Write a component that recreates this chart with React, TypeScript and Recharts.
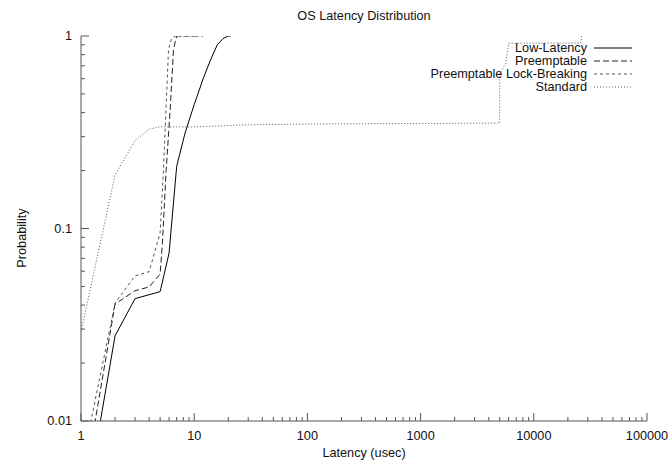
import React from "react";
import { Line, LineChart, XAxis, YAxis } from "recharts";

// latency (usec) / cumulative probability
const lowLatencyX = [1, 2, 3, 5, 6, 7, 8.3, 10, 12, 14, 16, 18, 20, 21];
const lowLatencyY = [0.0026, 0.0277, 0.0432, 0.047, 0.0746, 0.21, 0.313, 0.44, 0.6, 0.756, 0.9, 0.97, 1, 1];

const preemptX = [1, 2, 3, 4, 5, 5.24, 5.65, 6.13, 6.56, 6.85, 7.03, 12];
const preemptY = [0.0037, 0.0405, 0.0475, 0.0497, 0.058, 0.084, 0.2, 0.412, 0.846, 0.953, 1, 1];

const lockBreakX = [1, 2, 3, 4, 5, 5.35, 5.63, 5.93, 6.3, 6.79, 10];
const lockBreakY = [0.0056, 0.041, 0.0567, 0.0597, 0.0948, 0.2, 0.412, 0.846, 0.97, 1, 1];

const standardX = [1, 2, 3, 4, 5, 6, 10, 26, 106, 4990, 5010, 5650, 6000, 26000, 26500];
const standardY = [0.029, 0.19, 0.286, 0.328, 0.338, 0.337, 0.337, 0.345, 0.349, 0.353, 0.64, 0.72, 0.917, 0.92, 1];

const seriesNames = ["Low-Latency", "Preemptable", "Preemptable Lock-Breaking", "Standard"];

const xDecades = [1, 10, 100, 1000, 10000, 100000];
const xDecadeLabels = ["1", "10", "100", "1000", "10000", "100000"];
const yDecades = [0.01, 0.1, 1];
const yDecadeLabels = ["0.01", "0.1", "1"];
const minorSteps = [2, 3, 4, 5, 6, 7, 8, 9];

const INK = "#111";
const FRAME = "#555";
const FONT = "'Liberation Sans', Arial, sans-serif";
const FS = 12.7;

const STYLES = [
  { stroke: "#000", dash: undefined },
  { stroke: "#222", dash: "6 3" },
  { stroke: "#555", dash: "3 3" },
  { stroke: "#555", dash: "1 2" },
];

const zip = (xs: number[], ys: number[]) => xs.map((x, i) => ({ x, y: ys[i] }));
const SERIES = [
  zip(lowLatencyX, lowLatencyY),
  zip(preemptX, preemptY),
  zip(lockBreakX, lockBreakY),
  zip(standardX, standardY),
];

const withMinor = (decades: number[]) => {
  const out: number[] = [];
  decades.forEach((d, i) => {
    out.push(d);
    if (i < decades.length - 1) minorSteps.forEach((m) => out.push(d * m));
  });
  return out;
};
const X_TICKS = withMinor(xDecades);
const Y_TICKS = withMinor(yDecades);

const MAJOR = 8;
const MINOR = 4;

function BottomTick({ x, y, payload }: any) {
  const i = xDecades.indexOf(payload.value);
  return (
    <g>
      <line x1={x} y1={y} x2={x} y2={y - (i >= 0 ? MAJOR : MINOR)} stroke={FRAME} />
      {i >= 0 && (
        <text x={x} y={y + 19} textAnchor="middle" fontSize={FS} fill={INK} fontFamily={FONT}>
          {xDecadeLabels[i]}
        </text>
      )}
    </g>
  );
}

function TopTick({ x, y, payload }: any) {
  const major = xDecades.includes(payload.value);
  return <line x1={x} y1={y} x2={x} y2={y + (major ? MAJOR : MINOR)} stroke={FRAME} />;
}

function LeftTick({ x, y, payload }: any) {
  const i = yDecades.indexOf(payload.value);
  return (
    <g>
      <line x1={x} y1={y} x2={x + (i >= 0 ? MAJOR : MINOR)} y2={y} stroke={FRAME} />
      {i >= 0 && (
        <text x={x - 9} y={y + 4} textAnchor="end" fontSize={FS} fill={INK} fontFamily={FONT}>
          {yDecadeLabels[i]}
        </text>
      )}
    </g>
  );
}

function RightTick({ x, y, payload }: any) {
  const major = yDecades.includes(payload.value);
  return <line x1={x} y1={y} x2={x - (major ? MAJOR : MINOR)} y2={y} stroke={FRAME} />;
}

function LegendBox() {
  const rows = [48, 61, 74, 87];
  return (
    <svg width={672} height={463} style={{ position: "absolute", left: 0, top: 0, pointerEvents: "none" }}>
      {seriesNames.map((name, i) => (
        <g key={name}>
          <text x={587} y={rows[i] + 4} textAnchor="end" fontSize={FS} fill={INK} fontFamily={FONT}>
            {name}
          </text>
          <line x1={594} x2={632} y1={rows[i]} y2={rows[i]} stroke={STYLES[i].stroke} strokeDasharray={STYLES[i].dash} />
        </g>
      ))}
    </svg>
  );
}

export default function App() {
  return (
    <div style={{ position: "absolute", left: 0, top: 0, width: 672, height: 463, background: "#fff", fontFamily: FONT }}>
      <div style={{ position: "absolute", top: 9, left: 0, width: 728, textAlign: "center", fontSize: FS, color: INK }}>
        OS Latency Distribution
      </div>
      <div style={{ position: "absolute", top: 446, left: 0, width: 728, textAlign: "center", fontSize: FS, color: INK }}>
        Latency (usec)
      </div>
      <div
        style={{
          position: "absolute",
          left: 22,
          top: 238,
          fontSize: FS,
          color: INK,
          transform: "translate(-50%, -50%) rotate(-90deg)",
          whiteSpace: "nowrap",
        }}
      >
        Probability
      </div>
      <LineChart width={672} height={463} margin={{ top: 36, right: 25, bottom: 0, left: 21 }}>
        <XAxis
          xAxisId="b"
          dataKey="x"
          type="number"
          scale="log"
          domain={[1, 100000]}
          allowDataOverflow
          ticks={X_TICKS}
          interval={0}
          tick={<BottomTick />}
          tickLine={false}
          tickSize={0}
          tickMargin={0}
          height={42}
          axisLine={{ stroke: FRAME }}
        />
        <XAxis
          xAxisId="t"
          orientation="top"
          dataKey="x"
          type="number"
          scale="log"
          domain={[1, 100000]}
          allowDataOverflow
          ticks={X_TICKS}
          interval={0}
          tick={<TopTick />}
          tickLine={false}
          tickSize={0}
          tickMargin={0}
          height={0}
          axisLine={{ stroke: FRAME }}
        />
        <YAxis
          yAxisId="l"
          dataKey="y"
          type="number"
          scale="log"
          domain={[0.01, 1]}
          allowDataOverflow
          ticks={Y_TICKS}
          interval={0}
          tick={<LeftTick />}
          tickLine={false}
          tickSize={0}
          tickMargin={0}
          width={60}
          axisLine={{ stroke: FRAME }}
        />
        <YAxis
          yAxisId="r"
          orientation="right"
          dataKey="y"
          type="number"
          scale="log"
          domain={[0.01, 1]}
          allowDataOverflow
          ticks={Y_TICKS}
          interval={0}
          tick={<RightTick />}
          tickLine={false}
          tickSize={0}
          tickMargin={0}
          width={0}
          axisLine={{ stroke: FRAME }}
        />
        {SERIES.map((data, i) => (
          <Line
            key={seriesNames[i]}
            xAxisId="b"
            yAxisId="l"
            data={data}
            dataKey="y"
            name={seriesNames[i]}
            type="linear"
            stroke={STYLES[i].stroke}
            strokeDasharray={STYLES[i].dash}
            strokeWidth={1}
            dot={false}
            activeDot={false}
            isAnimationActive={false}
          />
        ))}
      </LineChart>
      <LegendBox />
    </div>
  );
}
